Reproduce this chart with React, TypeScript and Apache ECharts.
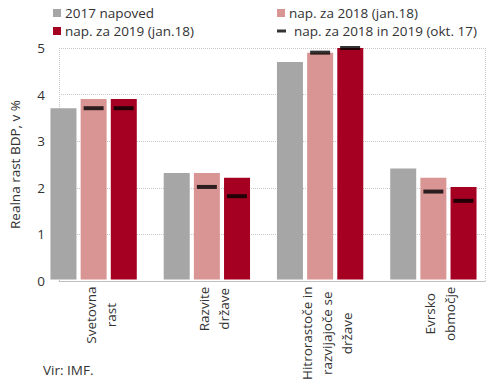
import React, { useEffect, useRef } from "react";
import * as echarts from "echarts";

const categories = [
  "Svetovna\nrast",
  "Razvite\ndržave",
  "Hitrorastoče in\nrazvijajoče se\ndržave",
  "Evrsko\nobmočje",
];
const napoved2017 = [3.7, 2.3, 4.7, 2.4];
const jan18za2018 = [3.9, 2.3, 4.9, 2.2];
const jan18za2019 = [3.9, 2.2, 5.0, 2.0];
const okt17za2018 = [3.7, 2.0, 4.9, 1.9];
const okt17za2019 = [3.7, 1.8, 5.0, 1.7];
const yMin = 0;
const yMax = 5;
const yStep = 1;

const FONT = "Open Sans";
const FS = 13.5;
const TXT = "#333333";

export default function App() {
  const ref = useRef<HTMLDivElement>(null);
  useEffect(() => {
    if (!ref.current) return;
    const chart = echarts.init(ref.current, undefined, { renderer: "svg" });
    const legendBase = {
      itemWidth: 8,
      itemHeight: 8,
      itemGap: 5,
      icon: "rect",
      textStyle: { fontFamily: FONT, fontSize: FS, color: TXT, padding: [0, 0, 0, -1] },
      padding: 0,
    };
    chart.setOption({
      animation: false,
      textStyle: { fontFamily: FONT },
      legend: [
        { ...legendBase, data: ["2017 napoved"], left: 53, top: 6 },
        { ...legendBase, data: ["nap. za 2018 (jan.18)"], left: 277, top: 6 },
        { ...legendBase, data: ["nap. za 2019 (jan.18)"], left: 53, top: 24 },
        {
          ...legendBase,
          data: ["nap. za 2018 in 2019 (okt. 17)"],
          left: 277,
          top: 24,
          itemWidth: 9,
          itemHeight: 3,
          itemGap: 7,
          textStyle: { ...legendBase.textStyle, padding: [0, 0, 0, 3] },
        },
      ],
      grid: [
        { left: 51, right: 5, top: 48, bottom: 102 },
        { left: 37, right: -9, top: 48, bottom: 102 },
      ],
      xAxis: [
        {
          type: "value",
          gridIndex: 0,
          min: 0,
          max: 1,
          interval: 1,
          axisLabel: { show: false },
          axisTick: { show: false },
          axisLine: { show: true, lineStyle: { color: "#c0c0c0", width: 1 } },
          splitLine: { show: true, lineStyle: { color: "#c8c8c8", type: "dotted" } },
        },
        {
          type: "category",
          gridIndex: 1,
          data: categories,
          axisLine: { show: false },
          axisTick: { show: false },
          axisLabel: {
            rotate: 90,
            margin: 7,
            align: "right",
            verticalAlign: "middle",
            padding: [14, 0, 0, 0],
            fontFamily: FONT,
            fontSize: FS,
            color: TXT,
            lineHeight: 20,
            formatter: (v: string) =>
              v
                .split("\n")
                .map((l) => `{c|${l}}`)
                .join("\n"),
            rich: { c: { align: "center", fontFamily: FONT, fontSize: FS, color: TXT, lineHeight: 20 } },
          },
        },
      ],
      yAxis: [
        {
          type: "value",
          gridIndex: 0,
          min: yMin,
          max: yMax,
          interval: yStep,
          name: "Realna rast BDP, v %",
          nameLocation: "middle",
          nameGap: 37,
          nameTextStyle: { fontFamily: FONT, fontSize: FS, color: TXT },
          axisLine: { show: false },
          axisTick: { show: false },
          axisLabel: { fontFamily: FONT, fontSize: FS, color: TXT, margin: 14 },
          splitLine: { show: true, lineStyle: { color: "#c8c8c8", type: "dotted" } },
        },
        {
          type: "value",
          gridIndex: 1,
          min: yMin,
          max: yMax,
          interval: yStep,
          show: false,
          splitLine: { show: false },
        },
      ],
      series: [
        {
          name: "2017 napoved",
          type: "bar",
          xAxisIndex: 1,
          yAxisIndex: 1,
          data: napoved2017,
          barWidth: 26,
          barGap: "16%",
          itemStyle: { color: "#a6a6a6" },
        },
        {
          name: "nap. za 2018 (jan.18)",
          type: "bar",
          xAxisIndex: 1,
          yAxisIndex: 1,
          data: jan18za2018,
          barWidth: 26,
          barGap: "16%",
          itemStyle: { color: "#d99594" },
        },
        {
          name: "nap. za 2019 (jan.18)",
          type: "bar",
          xAxisIndex: 1,
          yAxisIndex: 1,
          data: jan18za2019,
          barWidth: 26,
          barGap: "16%",
          itemStyle: { color: "#a50021" },
        },
        {
          name: "nap. za 2018 in 2019 (okt. 17)",
          type: "scatter",
          xAxisIndex: 1,
          yAxisIndex: 1,
          data: okt17za2018,
          symbol: "rect",
          symbolSize: [20, 4],
          itemStyle: { color: "#000000" },
          z: 5,
        },
        {
          name: "nap. za 2018 in 2019 (okt. 17)",
          type: "scatter",
          xAxisIndex: 1,
          yAxisIndex: 1,
          data: okt17za2019,
          symbol: "rect",
          symbolSize: [20, 4],
          symbolOffset: [30, 0],
          itemStyle: { color: "#000000" },
          z: 5,
        },
      ],
      graphic: [
        {
          type: "text",
          left: 43,
          top: 363,
          style: { text: "Vir: IMF.", fontFamily: FONT, fontSize: FS, fill: TXT },
        },
      ],
    });
    return () => chart.dispose();
  }, []);
  return (
    <div
      ref={ref}
      style={{ position: "absolute", left: 0, top: 0, width: 490, height: 383 }}
    />
  );
}
